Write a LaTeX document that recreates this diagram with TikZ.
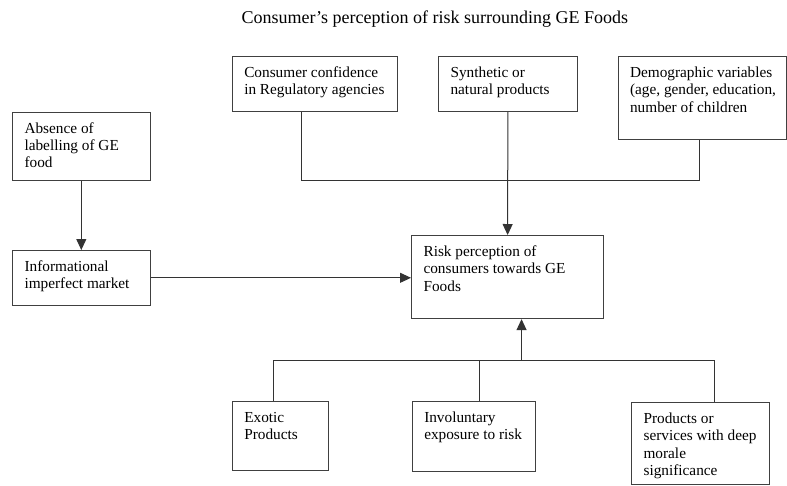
\documentclass[tikz,border=0pt]{standalone}
\usepackage{fontspec}
\setmainfont{Liberation Serif}
\usetikzlibrary{arrows.meta,calc}
\definecolor{boxgray}{HTML}{404040}
\definecolor{linegray}{HTML}{333333}
\tikzset{>={Triangle[length=11pt,width=10pt]},
  every node/.style={font=\fontsize{15.3}{17.3}\selectfont},
  block/.style={draw=boxgray,line width=1.1pt,anchor=north west,inner sep=0pt},
  edge/.style={draw=linegray,line width=1pt},flow/.style={edge,->}}
\newcommand{\cell}[3]{\parbox[t][#2pt][t]{#1pt}{\raggedright\leftskip=12pt\rule{0pt}{21pt}#3}}

\begin{document}
\begin{tikzpicture}[x=1pt,y=-1pt]
\useasboundingbox (0,0) rectangle (787,485);
\node[anchor=base west,font=\fontsize{18}{20}\selectfont] (title) at (238,23) {Consumer’s perception of risk surrounding GE Foods};
% left column
\node[block] (absence) at (12,111.5) {\cell{137.5}{68.5}{Absence of\\labelling of GE\\food}};
\node[block] (info) at (12,250) {\cell{137.5}{54.5}{Informational\\imperfect market}};
% top row
\node[block] (conf) at (231.7,56) {\cell{165.3}{55}{Consumer confidence\\in Regulatory agencies}};
\node[block] (synth) at (438,56) {\cell{138.7}{55}{Synthetic or\\natural products}};
\node[block] (demo) at (617.5,56) {\cell{168.5}{83}{Demographic variables\\(age, gender, education,\\number of children}};
% centre
\node[block] (risk) at (411,235) {\cell{192}{83}{Risk perception of\\consumers towards GE\\Foods}};
% bottom row
\node[block] (exotic) at (231.7,401) {\cell{96.3}{69}{Exotic\\Products}};
\node[block] (invol) at (411.7,401) {\cell{123.3}{69.5}{Involuntary\\exposure to risk}};
\node[block] (prod) at (631,402) {\cell{138}{82}{Products or\\services with deep\\morale\\significance}};
\coordinate (topbus) at (0,180);\coordinate (lowbus) at (0,360);
% connectors
\draw[flow] (absence) -- (info);
\draw[flow] (info.east) -- (info.east -| risk.west);
\draw[edge] ([xshift=-13.3pt]conf.south) |- ([xshift=-2.4pt]demo.south |- topbus) -- ([xshift=-2.4pt]demo.south);
\draw[flow] (synth) -- (risk);
\draw[edge] ([xshift=-6.5pt]exotic.north) |- ([xshift=14pt]prod.north |- lowbus) -- ([xshift=14pt]prod.north);
\draw[edge] ([xshift=5.6pt]invol.north) -- ([xshift=5.6pt]invol.north |- lowbus);
\draw[flow] ([xshift=14pt]risk.south |- lowbus) -- ([xshift=14pt]risk.south);
\end{tikzpicture}
\end{document}
